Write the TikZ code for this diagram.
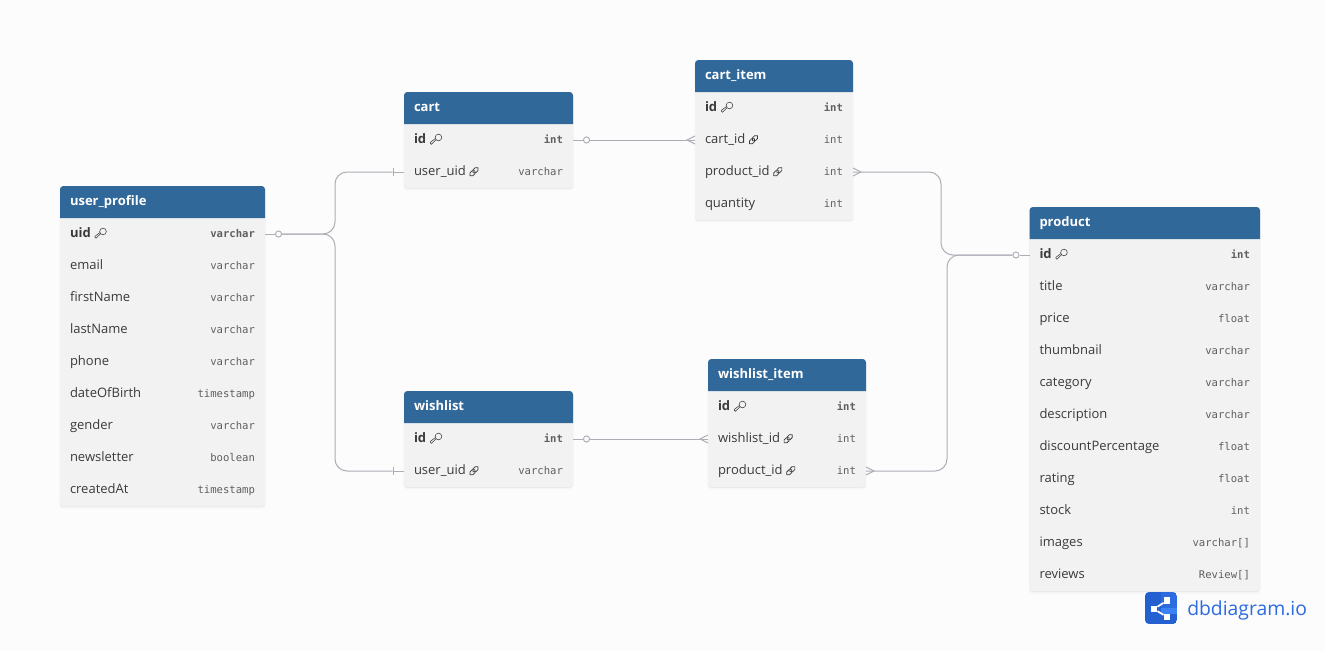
\documentclass[tikz,border=0pt]{standalone}
\usepackage{fontspec}
\setmainfont{Open Sans}
\setmonofont{DejaVu Sans Mono}
\usetikzlibrary{positioning,fit,backgrounds,shadows}

\definecolor{pagecol}{HTML}{FCFCFC}
\definecolor{headcol}{HTML}{31689A}
\definecolor{rowcol}{HTML}{F2F2F2}
\definecolor{namecol}{HTML}{3A3A3A}
\definecolor{typecol}{HTML}{5F5F5F}
\definecolor{relcol}{HTML}{ADADB6}
\definecolor{logodark}{HTML}{2460CF}
\definecolor{logomid}{HTML}{2C6BE0}
\definecolor{logolight}{HTML}{3B82F6}

\newcommand\keyicon{\tikz[baseline=-2.6pt,x=1pt,y=1pt,line width=.4pt]{
    \draw[namecol] (1.7,1.7) circle (2.5);
    \draw[namecol] (0,.1) -- (-3.6,-3.4) -- (-4.3,-2.7) -- (-4.3,-1.9) -- (-.6,.9);}}
\newcommand\linkicon{\tikz[baseline=-2.6pt,x=1pt,y=1pt,line width=.55pt]{
    \draw[namecol,rotate=45,rounded corners=1.4pt] (-4.2,-1.5) rectangle (.9,1.5);
    \draw[namecol,rotate=45,rounded corners=1.4pt] (-.9,-1.5) rectangle (4.2,1.5);}}
\newcommand\field[2]{\strut#1\hfill{\ttfamily\fontsize{7.95}{10}\selectfont\color{typecol}#2}}
\newcommand\pkfield[2]{\strut\textbf{#1}\hspace{3pt}\keyicon\hfill{\ttfamily\bfseries\fontsize{7.95}{10}\selectfont\color{typecol}#2}}
\newcommand\fkfield[2]{\field{#1\hspace{1.8pt}\linkicon}{#2}}
\newcommand\tablebody[2]{
    \begin{scope}[on background layer]
        \node(#1_body)[body, fit=(#1)(#2)] {};
        \fill[headcol] (#1.south west) [rounded corners=2.5pt] -- (#1.north west) -- (#1.north east) [sharp corners] -- (#1.south east) -- cycle;
    \end{scope}
}
\newcommand\crowfoot[2]{
    \draw[rel] ([yshift=3pt]#1) -- ([xshift=#2]#1) -- ([yshift=-3pt]#1);
}

\begin{document}
\begin{tikzpicture}[x=0.75pt, y=-0.75pt]
    \tikzset{
        head/.style     =   { anchor=north west
                            , text width={(#1)*0.75pt-15pt}
                            , inner xsep=7.5pt
                            , inner ysep=0pt
                            , outer sep=0pt
                            , minimum height=24pt
                            , font=\fontsize{9.75}{12}\selectfont\bfseries
                            , text=white
        }
        , row/.style    =   { text width={(#1)*0.75pt-15pt}
                            , inner xsep=7.5pt
                            , inner ysep=0pt
                            , outer sep=0pt
                            , minimum height=24pt
                            , font=\fontsize{9.75}{12}\selectfont
                            , text=namecol
        }
        , body/.style   =   { inner sep=0pt
                            , outer sep=0pt
                            , rounded corners=2.5pt
                            , fill=rowcol
                            , drop shadow={shadow xshift=0pt, shadow yshift=-1.4pt, shadow scale=1.006, opacity=.025, fill=black}
                            , drop shadow={shadow xshift=0pt, shadow yshift=-.7pt, opacity=.05, fill=black}
        }
        , rel/.style    =   { draw=relcol
                            , line width=0.75pt
        }
        , ring/.style   =   { circle
                            , draw=relcol
                            , fill=pagecol
                            , line width=0.7pt
                            , inner sep=0pt
                            , minimum size=4.6pt
        }
        , bar/.style    =   { fill=relcol
                            , inner sep=0pt
                            , minimum width=0.7pt
                            , minimum height=6pt
        }
        , logosq/.style =   { fill=white
                            , inner sep=0pt
                            , minimum size=4.8pt
        }
    }
    \useasboundingbox (0,0) rectangle (1325,651);
    \begin{scope}[on background layer]
        \fill[pagecol] (0,0) rectangle (1325,651);
    \end{scope}

    % user_profile
    \node(up)[head=205] at (60,186) {\strut user\_profile};
    \node(up_uid)[row=205, below=0pt of up] {\pkfield{uid}{varchar}};
    \foreach \fname/\ftype [remember=\fname as \prev (initially uid)] in {email/varchar, firstName/varchar, lastName/varchar, phone/varchar, dateOfBirth/timestamp, gender/varchar, newsletter/boolean, createdAt/timestamp}
        \node(up_\fname)[row=205, below=0pt of up_\prev] {\field{\fname}{\ftype}};
    \tablebody{up}{up_createdAt}

    % cart
    \node(ca)[head=169] at (404,92) {\strut cart};
    \node(ca_id)[row=169, below=0pt of ca] {\pkfield{id}{int}};
    \node(ca_user)[row=169, below=0pt of ca_id] {\fkfield{user\_uid}{varchar}};
    \tablebody{ca}{ca_user}

    % cart_item
    \node(ci)[head=158] at (695,60) {\strut cart\_item};
    \node(ci_id)[row=158, below=0pt of ci] {\pkfield{id}{int}};
    \node(ci_cart)[row=158, below=0pt of ci_id] {\fkfield{cart\_id}{int}};
    \node(ci_prod)[row=158, below=0pt of ci_cart] {\fkfield{product\_id}{int}};
    \node(ci_qty)[row=158, below=0pt of ci_prod] {\field{quantity}{int}};
    \tablebody{ci}{ci_qty}

    % wishlist
    \node(wl)[head=169] at (404,391) {\strut wishlist};
    \node(wl_id)[row=169, below=0pt of wl] {\pkfield{id}{int}};
    \node(wl_user)[row=169, below=0pt of wl_id] {\fkfield{user\_uid}{varchar}};
    \tablebody{wl}{wl_user}

    % wishlist_item
    \node(wi)[head=158] at (708,359) {\strut wishlist\_item};
    \node(wi_id)[row=158, below=0pt of wi] {\pkfield{id}{int}};
    \node(wi_list)[row=158, below=0pt of wi_id] {\fkfield{wishlist\_id}{int}};
    \node(wi_prod)[row=158, below=0pt of wi_list] {\fkfield{product\_id}{int}};
    \tablebody{wi}{wi_prod}

    % product
    \node(pr)[head=230.5] at (1029.5,207) {\strut product};
    \node(pr_id)[row=230.5, below=0pt of pr] {\pkfield{id}{int}};
    \foreach \fname/\ftype [remember=\fname as \prev (initially id)] in {title/varchar, price/float, thumbnail/varchar, category/varchar, description/varchar, discountPercentage/float, rating/float, stock/int, images/varchar[], reviews/Review[]}
        \node(pr_\fname)[row=230.5, below=0pt of pr_\prev] {\field{\fname}{\ftype}};
    \tablebody{pr}{pr_reviews}

    % end marks
    \node(up_o)[ring, right=7.5pt of up_uid.east] {};
    \node(ca_o)[ring, right=7.5pt of ca_id.east] {};
    \node(wl_o)[ring, right=7.5pt of wl_id.east] {};
    \node(pr_o)[ring, left=7.5pt of pr_id.west] {};
    \node(ca_b)[bar, left=7.5pt of ca_user.west] {};
    \node(wl_b)[bar, left=7.5pt of wl_user.west] {};

    % bends
    \coordinate(bus_up) at (335,200);
    \coordinate(bus_dn) at (335,350);
    \coordinate(bus_ci) at (941,210);
    \coordinate(bus_wi) at (947,360);

    \draw[rel] (up_uid.east) -- (up_o);
    \draw[rel] (ca_id.east) -- (ca_o);
    \draw[rel] (wl_id.east) -- (wl_o);
    \draw[rel] (pr_id.west) -- (pr_o);
    \draw[rel] (ca_b) -- (ca_user.west);
    \draw[rel] (wl_b) -- (wl_user.west);

    \draw[rel, rounded corners=9pt] (up_o) -| (bus_up) |- (ca_b);
    \draw[rel, rounded corners=9pt] (up_o) -| (bus_dn) |- (wl_b);
    \draw[rel] (ca_o) -- (ci_cart.west);
    \draw[rel] (wl_o) -- (wi_list.west);
    \draw[rel, rounded corners=9pt] (ci_prod.east) -| (bus_ci) |- (pr_o);
    \draw[rel, rounded corners=9pt] (wi_prod.east) -| (bus_wi) |- (pr_o);

    \crowfoot{ci_cart.west}{-6pt}
    \crowfoot{wi_list.west}{-6pt}
    \crowfoot{ci_prod.east}{6pt}
    \crowfoot{wi_prod.east}{6pt}

    % logo
    \begin{scope}
        \clip[rounded corners=3pt] (1145,592) rectangle (1177,624);
        \fill[logodark] (1145,592) rectangle (1161,624);
        \fill[logomid] (1161,592) rectangle (1177,608);
        \fill[logolight] (1161,608) rectangle (1177,614);
        \fill[logodark] (1161,614) rectangle (1177,624);
    \end{scope}
    \node(logo_hub)[logosq] at (1154,609) {};
    \node(logo_top)[logosq] at (1167,600.5) {};
    \node(logo_bot)[logosq] at (1167,617) {};
    \draw[white, line width=1.3pt] (logo_top) -- (logo_hub) -- (logo_bot);
    \node(logo_text)[anchor=base west, inner sep=0pt, text=logomid, font=\fontsize{14.5}{18}\selectfont] at (1187,615) {dbdiagram.io};
\end{tikzpicture}
\end{document}
